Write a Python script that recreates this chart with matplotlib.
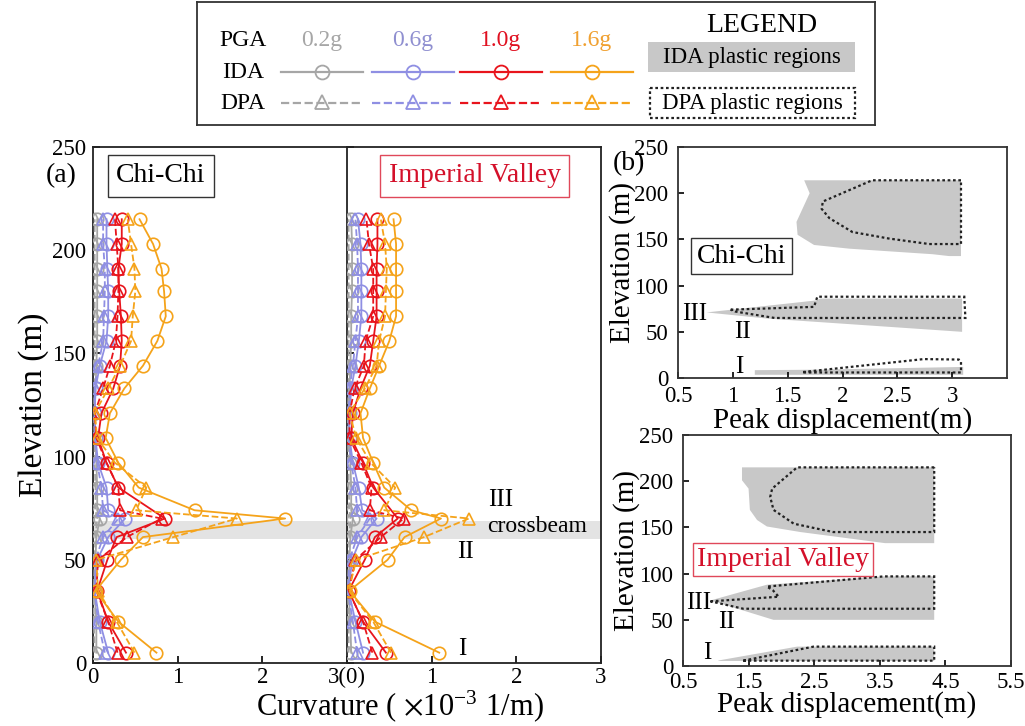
import numpy as np
import matplotlib
matplotlib.use("Agg")
import matplotlib.pyplot as plt
from matplotlib.patches import Rectangle, Polygon

plt.rcParams['font.family'] = ['Liberation Serif', 'DejaVu Serif']
plt.rcParams['mathtext.fontset'] = 'stix'

nan = np.nan
# ---------------- data ----------------
elev = [5, 20, 35, 50, 61, 70, 74, 85, 97, 109, 121, 133, 144, 156, 168, 180, 191, 203, 215]
pga_labels = ['0.2g', '0.6g', '1.0g', '1.6g']

cc_ida_02 = [0.04, 0.04, 0.02, 0.03, 0.04, 0.08, 0.05, 0.05, 0.04, 0.03, 0.02, 0.03, 0.04, 0.05, 0.05, 0.05, 0.05, 0.05, 0.05]
cc_dpa_02 = [0.02, 0.01, 0.01, 0.02, 0.03, 0.05, 0.03, 0.03, 0.02, 0.02, 0.01, 0.02, 0.02, 0.02, 0.02, 0.02, 0.02, 0.02, 0.02]
cc_ida_06 = [0.18, 0.08, 0.02, 0.05, 0.18, 0.38, 0.18, 0.16, 0.06, 0.03, 0.02, 0.03, 0.08, 0.16, 0.18, 0.18, 0.17, 0.16, 0.16]
cc_dpa_06 = [0.14, 0.06, 0.02, 0.03, 0.12, 0.30, 0.12, 0.10, 0.05, 0.02, 0.02, 0.02, 0.06, 0.12, 0.13, 0.14, 0.14, 0.12, 0.12]
cc_ida_10 = [0.39, 0.18, 0.05, 0.17, 0.28, 0.85, nan, 0.30, 0.16, 0.06, 0.10, 0.24, 0.32, 0.34, 0.33, 0.31, 0.30, 0.34, 0.34]
cc_dpa_10 = [0.29, 0.18, 0.04, 0.06, 0.40, 0.81, 0.32, 0.30, 0.16, 0.04, 0.02, 0.12, 0.20, 0.27, 0.29, 0.30, 0.30, 0.28, 0.26]
cc_ida_16 = [0.75, 0.30, 0.03, 0.33, 0.59, 2.27, 1.20, 0.54, 0.30, 0.15, 0.20, 0.37, 0.59, 0.76, 0.86, 0.84, 0.81, 0.71, 0.55]
cc_dpa_16 = [0.49, 0.28, 0.06, 0.04, 0.95, 1.70, 0.51, 0.63, 0.26, 0.05, 0.02, 0.18, 0.32, 0.45, 0.47, 0.50, 0.49, 0.45, 0.41]

iv_ida_02 = [0.05, 0.04, 0.02, 0.03, 0.04, 0.07, 0.05, 0.05, 0.04, 0.03, 0.02, 0.03, 0.04, 0.05, 0.05, 0.06, 0.06, 0.06, 0.05]
iv_dpa_02 = [0.02, 0.02, 0.01, 0.02, 0.03, 0.04, 0.03, 0.02, 0.02, 0.01, 0.01, 0.02, 0.02, 0.02, 0.02, 0.02, 0.02, 0.02, 0.02]
iv_ida_06 = [0.19, 0.10, 0.02, 0.06, 0.17, 0.35, 0.18, 0.14, 0.07, 0.03, 0.03, 0.05, 0.10, 0.14, 0.17, 0.17, 0.17, 0.16, 0.13]
iv_dpa_06 = [0.12, 0.07, 0.01, 0.03, 0.12, 0.27, 0.12, 0.10, 0.05, 0.02, 0.02, 0.03, 0.07, 0.10, 0.13, 0.13, 0.13, 0.12, 0.10]
iv_ida_10 = [0.46, 0.19, 0.02, 0.21, 0.33, 0.60, nan, 0.31, 0.19, 0.05, 0.07, 0.16, 0.27, 0.31, 0.35, 0.35, 0.35, 0.36, 0.36]
iv_dpa_10 = [0.30, 0.19, 0.02, 0.10, 0.40, 0.67, 0.27, 0.29, 0.17, 0.03, 0.03, 0.09, 0.20, 0.22, 0.31, 0.31, 0.31, 0.26, 0.23]
iv_ida_16 = [1.09, 0.33, 0.03, 0.48, 0.68, 1.11, 0.76, 0.44, 0.31, 0.19, 0.16, 0.27, 0.38, 0.50, 0.58, 0.58, 0.58, 0.58, 0.55]
iv_dpa_16 = [0.52, 0.31, 0.02, 0.11, 0.91, 1.44, 0.44, 0.57, 0.28, 0.11, 0.03, 0.21, 0.35, 0.38, 0.45, 0.46, 0.47, 0.45, 0.40]

crossbeam = (60, 69)

# plastic regions (peak displacement m, elevation m)
cc_ida_top_x = [1.65, 1.70, 1.58, 1.59, 1.74, 2.06, 2.82, 2.97, 3.08, 3.08]
cc_ida_top_y = [214, 200, 169, 155, 144, 140, 134, 132, 132, 214]
cc_dpa_top_x = [3.08, 2.27, 1.82, 1.81, 1.88, 2.09, 2.42, 2.79, 3.08]
cc_dpa_top_y = [214, 214, 191, 183, 173, 158, 151, 145, 145]
cc_ida_mid_x = [0.76, 1.76, 1.80, 3.09, 3.09, 1.30]
cc_ida_mid_y = [71, 84, 86, 86, 50, 64.5]
cc_dpa_mid_x = [0.98, 1.74, 1.77, 3.11, 3.12, 1.38, 1.02]
cc_dpa_mid_y = [74, 77, 88, 88, 65, 65, 72]
cc_ida_bot_x = [1.20, 1.75, 3.10, 3.10, 1.20]
cc_ida_bot_y = [8.5, 9.0, 12.0, 3.5, 3.5]
cc_dpa_bot_x = [1.64, 2.74, 3.06, 3.08, 3.08, 1.64]
cc_dpa_bot_y = [6.5, 20.5, 20.0, 18.0, 6.0, 6.0]

iv_ida_top_x = [1.40, 1.40, 1.50, 1.52, 1.63, 1.78, 2.29, 3.58, 4.33, 4.33]
iv_ida_top_y = [215, 201, 192, 169, 158, 151, 145, 133, 133, 215]
iv_dpa_top_x = [4.33, 2.24, 1.86, 1.83, 1.88, 2.19, 2.79, 4.33]
iv_dpa_top_y = [215, 215, 192, 183, 169, 154, 145, 145]
iv_ida_mid_x = [0.92, 1.78, 3.56, 4.33, 4.33, 1.88]
iv_ida_mid_y = [71, 88, 97, 97, 50, 50]
iv_dpa_mid_x = [0.92, 1.96, 1.87, 1.78, 3.56, 4.33, 4.33, 1.42]
iv_dpa_mid_y = [70, 75, 82, 86, 97, 97, 62, 62]
iv_ida_bot_x = [1.04, 2.24, 4.33, 4.33, 1.04]
iv_ida_bot_y = [6.0, 21, 21, 5.5, 5.5]
iv_dpa_bot_x = [1.42, 2.49, 4.33, 4.33]
iv_dpa_bot_y = [5.8, 21, 21, 5.8]

colors = ['#a6a6a6', '#8f8fe3', '#e8141c', '#f5a31a']
text_colors = ['#a6a6a6', '#8f8fd0', '#e01020', '#f0a030']
FS_TICK = 16.5
FS_LAB = 24

fig = plt.figure(figsize=(10.25, 7.26), dpi=100)


def plot_series(ax, ida_list, dpa_list):
    for c, ida, dpa in zip(colors, ida_list, dpa_list):
        e = np.array(elev, float)
        a = np.array(ida, float)
        m = ~np.isnan(a)
        ax.plot(a[m], e[m], '-', color=c, lw=1.3, marker='o', ms=9,
                mfc='none', mec=c, mew=1.2, zorder=3)
        d = np.array(dpa, float)
        m = ~np.isnan(d)
        ax.plot(d[m], e[m], '--', color=c, lw=1.3, marker='^', ms=9,
                mfc='none', mec=c, mew=1.2, zorder=3)


# ---- panel (a) ----
axL = fig.add_axes([0.0907, 0.0868, 0.2478, 0.7107])
axM = fig.add_axes([0.3385, 0.0868, 0.2478, 0.7107])
for ax in (axL, axM):
    ax.set_xlim(0, 3)
    ax.set_ylim(0, 250)
    ax.axhspan(crossbeam[0], crossbeam[1], color='#e3e3e3', zorder=0, lw=0)
    ax.tick_params(direction='in', labelsize=FS_TICK, length=5, width=1.2, pad=5)
    ax.tick_params(axis='x', pad=3)
    for s in ax.spines.values():
        s.set_linewidth(1.3)
        s.set_color('#222222')
    ax.set_xticks([0, 1, 2, 3])

plot_series(axL, [cc_ida_02, cc_ida_06, cc_ida_10, cc_ida_16],
            [cc_dpa_02, cc_dpa_06, cc_dpa_10, cc_dpa_16])
plot_series(axM, [iv_ida_02, iv_ida_06, iv_ida_10, iv_ida_16],
            [iv_dpa_02, iv_dpa_06, iv_dpa_10, iv_dpa_16])

axL.set_xticklabels(['0', '1', '2', ''])
axL.set_yticks([0, 50, 100, 150, 200, 250])
axL.set_ylabel('Elevation (m)', fontsize=FS_LAB, labelpad=2)
axL.spines['right'].set_visible(False)
axM.set_xticklabels(['3(0)', '1', '2', '3'])
axM.set_yticks([0, 50, 100, 150, 200, 250])
axM.set_yticklabels([])

axL.text(0.80, 236, 'Chi-Chi', fontsize=20, ha='center', va='center',
         bbox=dict(boxstyle='square,pad=0.3', fc='white', ec='#333333', lw=1))
axM.text(1.51, 236, 'Imperial Valley', fontsize=20, ha='center', va='center',
         color='#d4102a',
         bbox=dict(boxstyle='square,pad=0.3', fc='white', ec='#e0485a', lw=1))
axM.text(1.81, 79, 'III', fontsize=18, ha='center', va='center')
axM.text(2.25, 66, 'crossbeam', fontsize=17, ha='center', va='center')
axM.text(1.40, 54, 'II', fontsize=18, ha='center', va='center')
axM.text(1.36, 7, 'I', fontsize=18, ha='center', va='center')

fig.text(0.06, 0.758, '(a)', fontsize=20, ha='center', va='center')
fig.text(0.39, 0.026, r'Curvature ( $\times$10$^{\mathregular{-3}}$ 1/m)',
         fontsize=22, ha='center', va='center')


# ---- panel (b) ----
def region_axes(rect, xlim, xticks, xticklabels, xpad, xlabelpad):
    ax = fig.add_axes(rect)
    ax.set_xlim(*xlim)
    ax.set_ylim(0, 250)
    ax.set_xticks(xticks)
    ax.set_xticklabels(xticklabels)
    ax.set_yticks([0, 50, 100, 150, 200, 250])
    ax.tick_params(direction='in', labelsize=FS_TICK, length=4, width=1.2)
    ax.tick_params(axis='x', pad=xpad)
    ax.tick_params(axis='y', pad=7)
    for s in ax.spines.values():
        s.set_linewidth(1.3)
        s.set_color('#333333')
    ax.set_ylabel('Elevation (m)', fontsize=21, labelpad=-1)
    ax.set_xlabel('Peak displacement(m)', fontsize=21, labelpad=xlabelpad)
    return ax


def draw_regions(ax, ida_regions, dpa_regions):
    for xs, ys in ida_regions:
        ax.add_patch(Polygon(np.column_stack([xs, ys]), closed=True,
                             fc='#c8c8c8', ec='none', zorder=1))
    for xs, ys in dpa_regions:
        ax.add_patch(Polygon(np.column_stack([xs, ys]), closed=True,
                             fill=False, ec='#222222', lw=1.6, ls=(0, (1.2, 1.2)),
                             zorder=2))


axB1 = region_axes([0.6615, 0.4793, 0.321, 0.3182], (0.5, 3.5),
                   [0.5, 1, 1.5, 2, 2.5, 3], ['0.5', '1', '1.5', '2', '2.5', '3'], 6, 0)
draw_regions(axB1,
             [(cc_ida_top_x, cc_ida_top_y), (cc_ida_mid_x, cc_ida_mid_y), (cc_ida_bot_x, cc_ida_bot_y)],
             [(cc_dpa_top_x, cc_dpa_top_y), (cc_dpa_mid_x, cc_dpa_mid_y), (cc_dpa_bot_x, cc_dpa_bot_y)])
axB1.text(1.08, 132, 'Chi-Chi', fontsize=20, ha='center', va='center',
          bbox=dict(boxstyle='square,pad=0.2', fc='white', ec='#333333', lw=1))
axB1.text(0.65, 69, 'III', fontsize=18, ha='center', va='center')
axB1.text(1.09, 50, 'II', fontsize=18, ha='center', va='center')
axB1.text(1.06, 12, 'I', fontsize=18, ha='center', va='center')
fig.text(0.614, 0.775, '(b)', fontsize=20, ha='center', va='center')

axB2 = region_axes([0.6663, 0.0826, 0.32, 0.3182], (0.5, 5.5),
                   [0.5, 1.5, 2.5, 3.5, 4.5, 5.5], ['0.5', '1.5', '2.5', '3.5', '4.5', '5.5'], 4, -1)
draw_regions(axB2,
             [(iv_ida_top_x, iv_ida_top_y), (iv_ida_mid_x, iv_ida_mid_y), (iv_ida_bot_x, iv_ida_bot_y)],
             [(iv_dpa_top_x, iv_dpa_top_y), (iv_dpa_mid_x, iv_dpa_mid_y), (iv_dpa_bot_x, iv_dpa_bot_y)])
axB2.text(2.03, 115, 'Imperial Valley', fontsize=20, ha='center', va='center',
          color='#d4102a',
          bbox=dict(boxstyle='square,pad=0.15', fc='white', ec='#e0485a', lw=1))
axB2.text(0.74, 68, 'III', fontsize=18, ha='center', va='center')
axB2.text(1.17, 48, 'II', fontsize=18, ha='center', va='center')
axB2.text(0.87, 14, 'I', fontsize=18, ha='center', va='center')

# ---- legend box ----
axG = fig.add_axes([0.1922, 0.8278, 0.6615, 0.1694])
axG.set_xlim(197, 875)
axG.set_ylim(125, 2)
axG.set_xticks([])
axG.set_yticks([])
for s in axG.spines.values():
    s.set_linewidth(1.3)
    s.set_color('#333333')

row_y = [40, 72, 103]
axG.text(243, row_y[0], 'PGA', fontsize=17, ha='center', va='center')
axG.text(243, row_y[1], 'IDA', fontsize=17, ha='center', va='center')
axG.text(243, row_y[2], 'DPA', fontsize=17, ha='center', va='center')
centers = [322, 413, 501, 592]
for cx, c, tc, lab in zip(centers, colors, text_colors, pga_labels):
    axG.text(cx, row_y[0], lab, fontsize=17, ha='center', va='center', color=tc)
    axG.plot([cx - 41, cx + 41], [row_y[1], row_y[1]], '-', color=c, lw=1.6)
    axG.plot([cx], [row_y[1]], 'o', ms=10, mfc='none', mec=c, mew=1.3)
    axG.plot([cx - 41, cx + 41], [row_y[2], row_y[2]], '--', color=c, lw=1.6)
    axG.plot([cx], [row_y[2] - 1], '^', ms=10, mfc='none', mec=c, mew=1.3)
axG.text(762, 25, 'LEGEND', fontsize=20, ha='center', va='center')
axG.add_patch(Rectangle((648, 42), 207, 30, fc='#c8c8c8', ec='none'))
axG.text(752, 57, 'IDA plastic regions', fontsize=16.5, ha='center', va='center')
axG.add_patch(Rectangle((650, 88), 205, 30, fill=False, ec='#222222', lw=1.6,
                        ls=(0, (1.2, 1.2))))
axG.text(752, 103, 'DPA plastic regions', fontsize=16.5, ha='center', va='center')

fig.savefig('out.png', dpi=100)
